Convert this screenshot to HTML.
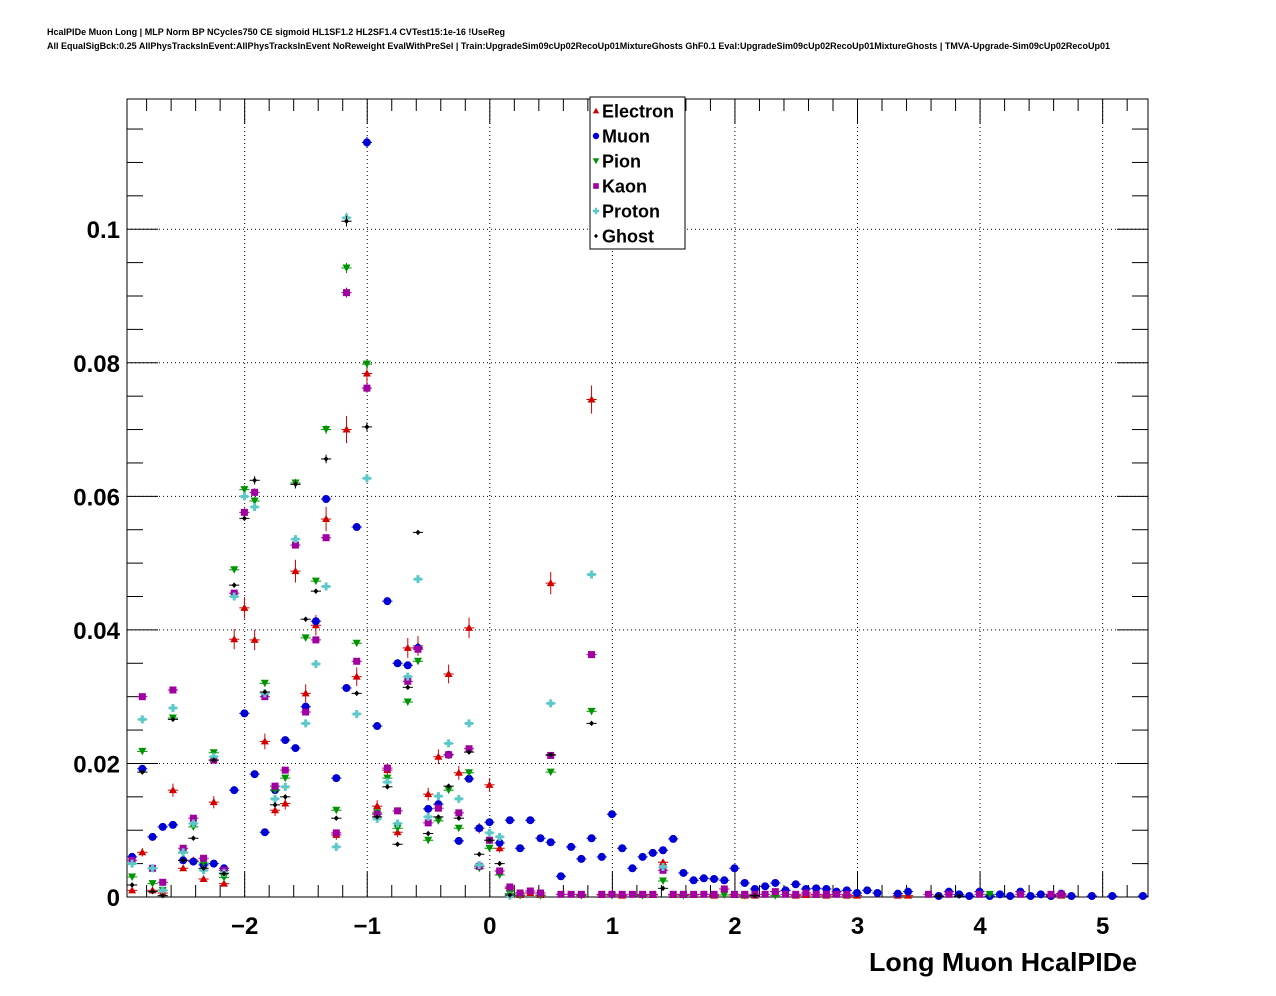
<!DOCTYPE html>
<html><head><meta charset="utf-8"><style>
body{margin:0;background:#fff;}
svg{display:block;font-family:"Liberation Sans",Arial,sans-serif;}
</style></head><body>
<svg id="chart" width="1276" height="996" viewBox="0 0 1276 996" xmlns="http://www.w3.org/2000/svg">
<rect x="0" y="0" width="1276" height="996" fill="#fff"/>
<text x="47" y="35" font-size="9" font-weight="bold" textLength="458" lengthAdjust="spacingAndGlyphs">HcalPIDe Muon Long | MLP Norm BP NCycles750 CE sigmoid HL1SF1.2 HL2SF1.4 CVTest15:1e-16 !UseReg</text>
<text x="47" y="49" font-size="9" font-weight="bold" textLength="1063" lengthAdjust="spacingAndGlyphs">All EqualSigBck:0.25 AllPhysTracksInEvent:AllPhysTracksInEvent NoReweight EvalWithPreSel | Train:UpgradeSim09cUp02RecoUp01MixtureGhosts GhF0.1 Eval:UpgradeSim09cUp02RecoUp01MixtureGhosts | TMVA-Upgrade-Sim09cUp02RecoUp01</text>
<g id="grid"></g>
<g id="axes"></g>
<g id="marks"></g>
<text x="1137" y="971" font-size="26" font-weight="bold" text-anchor="end" textLength="268" lengthAdjust="spacingAndGlyphs">Long Muon HcalPIDe</text>
<g id="legend"></g>
</svg>
<script>
const xMin = -2.96, xMax = 5.37, nBins = 100;
const yMin = 0, yMax = 0.1195;
const xTickLabels = ["−2","−1","0","1","2","3","4","5"];
const xTickValues = [-2,-1,0,1,2,3,4,5];
const yTickValues = [0,0.02,0.04,0.06,0.08,0.1];
const yTickLabels = ["0","0.02","0.04","0.06","0.08","0.1"];
const seriesNames = ["Electron","Muon","Pion","Kaon","Proton","Ghost"];
const electron = [0.001,0.0067,0.001,0.0006,0.016,0.0043,0.0055,0.0027,0.0142,0.002,0.0386,0.0433,0.0385,0.0233,0.013,0.014,0.0488,0.0305,0.0407,0.0566,0.0093,0.070,0.033,0.0784,0.0136,0.019,0.0097,0.0373,0.0376,0.0154,0.021,0.0334,0.0186,0.0403,0.0103,0.0168,0.0073,0.0013,0.0003,0.0006,0.0003,0.047,null,null,0.0003,0.0745,0.0003,0.0004,0.0002,null,0.0003,0.0003,0.0052,0.0003,0.0003,0.0003,null,0.0002,0.0012,0.0003,0.0002,0.0002,null,0.0008,null,0.0002,0.0003,0.0003,0.0002,null,0.0002,0.0002,null,null,null,0.0002,0.0002,null,null,null,null,null,null,null,null,null,null,null,null,null,0.0003,0.0002,null,null,null,null,null,null,null,null];
const muon = [0.006,0.0192,0.009,0.0105,0.0108,0.0055,0.0053,0.0048,0.005,0.0043,0.016,0.0275,0.0184,0.0097,0.016,0.0235,0.0223,0.0285,0.0413,0.0596,0.0178,0.0313,0.0554,0.113,0.0256,0.0443,0.035,0.0347,0.0373,0.0132,0.0139,0.0213,0.0084,0.0177,0.0103,0.0112,0.0081,0.0115,0.0073,0.0115,0.0088,0.0082,0.0031,0.0075,0.0057,0.0088,0.006,0.0124,0.0073,0.0043,0.006,0.0066,0.007,0.0087,0.0036,0.0025,0.0028,0.0027,0.0025,0.0043,0.0021,0.0012,0.0016,0.0021,0.001,0.0019,0.0012,0.0013,0.0012,0.0008,0.001,0.0006,0.001,0.0006,null,0.0005,0.0008,null,null,0.0001,0.0008,0.0004,0.0001,0.0008,0.0001,0.0004,0.0001,0.0008,0.0001,0.0004,0.0001,0.0005,0.0001,null,0.0001,null,0.0001,null,null,0.0001];
const pion = [0.003,0.0218,0.002,0.001,0.0268,0.0066,0.0105,0.0051,0.0216,0.0029,0.049,0.061,0.0593,0.032,0.016,0.0178,0.062,0.0388,0.0473,0.070,0.013,0.0942,0.038,0.0798,0.0126,0.0178,0.0103,0.0292,0.0353,0.0085,0.0114,0.016,0.0103,0.0186,0.0043,0.0073,0.0033,0.0005,0.0002,null,0.0002,0.0187,null,null,0.0002,0.0278,null,0.0002,null,null,0.0002,null,0.0024,null,0.0002,null,null,null,0.0003,null,0.0002,null,null,0.0002,null,null,null,null,null,null,null,null,null,null,null,null,null,null,null,null,null,null,null,null,0.0004,null,null,null,null,null,null,null,null,null,null,null,null,null,null,null];
const kaon = [0.0055,0.030,0.0043,0.0022,0.031,0.0073,0.0118,0.0058,0.0205,0.004,0.0455,0.0576,0.0606,0.030,0.0166,0.019,0.0527,0.0277,0.0385,0.0538,0.0096,0.0905,0.0353,0.0762,0.0124,0.0193,0.0129,0.0323,0.0371,0.0111,0.0133,0.0213,0.0126,0.0222,0.0046,0.0085,0.0039,0.0015,0.0006,0.0009,0.0006,0.0212,0.0004,0.0004,0.0004,0.0363,0.0004,0.0004,0.0004,0.0004,0.0004,0.0004,0.004,0.0004,0.0004,0.0004,0.0004,0.0004,0.0012,0.0004,0.0004,0.0004,0.0004,0.0008,0.0004,0.0004,0.0006,0.0004,0.0004,0.0004,0.0004,null,null,null,null,null,null,null,0.0004,null,0.0004,null,null,0.0004,null,null,null,0.0004,null,null,0.0004,0.0004,null,null,null,null,null,null,null,null];
const proton = [0.005,0.0266,0.0043,0.001,0.0283,0.0067,0.011,0.004,0.021,0.0036,0.045,0.060,0.0584,0.0305,0.0147,0.0165,0.0536,0.026,0.0349,0.0465,0.0075,0.1017,0.0274,0.0627,0.0117,0.0172,0.011,0.033,0.0476,0.012,0.0151,0.023,0.0147,0.026,0.0048,0.0096,0.009,0.0002,null,null,null,0.029,null,null,null,0.0483,null,null,null,null,null,null,0.0045,null,null,null,null,null,null,null,null,null,null,null,null,null,null,null,null,null,null,null,null,null,null,null,null,null,null,null,null,null,null,null,null,null,null,null,null,null,null,null,null,null,null,null,null,null,null,null,null];
const ghost = [0.0018,0.0187,0.0008,0.0002,0.0266,0.0055,0.0088,0.0043,0.0205,0.0035,0.0467,0.0567,0.0624,0.0307,0.0138,0.015,0.0618,0.0416,0.0458,0.0656,0.0118,0.1012,0.0305,0.0704,0.012,0.0165,0.0079,0.0314,0.0546,0.0095,0.012,0.0166,0.0118,0.0217,0.0064,0.0085,0.005,0.0003,null,null,null,0.0213,null,null,null,0.026,null,null,null,null,null,null,0.0013,null,null,null,null,null,null,null,null,0.0002,null,null,null,null,null,null,null,null,null,null,null,null,null,null,null,null,null,0.0001,null,0.0001,null,null,null,null,null,null,null,null,null,null,null,null,null,null,null,null,null,null];

const PL=127, PR=1148, PT=99, PB=897;
const NS="http://www.w3.org/2000/svg";
function sx(v){return PL+(v-xMin)/(xMax-xMin)*(PR-PL);}
function sy(v){return PB-(v-yMin)/(yMax-yMin)*(PB-PT);}
function mk(tag,attrs,parent){const e=document.createElementNS(NS,tag);for(const k in attrs)e.setAttribute(k,attrs[k]);parent.appendChild(e);return e;}
const grid=document.getElementById('grid'), axes=document.getElementById('axes'), marks=document.getElementById('marks'), legend=document.getElementById('legend');

xTickValues.forEach((v,i)=>{
  const x=sx(v);
  const gl=mk('line',{x1:x,x2:x,y1:PT,y2:PB,stroke:'#000','stroke-width':1,'stroke-dasharray':'1,3'},grid);
  
  
  const t=mk('text',{x:x,y:934,'font-size':24,'font-weight':'bold','text-anchor':'middle'},axes);
  t.textContent=xTickLabels[i];
  
  
});
yTickValues.forEach((v,i)=>{
  const y=sy(v);
  if(v>0){
    const gl=mk('line',{x1:PL,x2:PR,y1:y,y2:y,stroke:'#000','stroke-width':1,'stroke-dasharray':'1,3'},grid);
    
    
  }
  const t=mk('text',{x:120,y:y+9,'font-size':24,'font-weight':'bold','text-anchor':'end'},axes);
  t.textContent=yTickLabels[i];
  
  
});
for(let k=-14;k<=26;k++){
  const v=k*0.2; if(v<xMin||v>xMax) continue;
  const x=sx(v); const major=(k%5===0); const L=major?25:12;
  mk('line',{x1:x,x2:x,y1:PB,y2:PB-L,stroke:'#000','stroke-width':1},axes);
  mk('line',{x1:x,x2:x,y1:PT,y2:PT+L,stroke:'#000','stroke-width':1},axes);
}
for(let k=0;k<=23;k++){
  const v=k*0.005; if(v>yMax) continue;
  const y=sy(v); const major=(k%4===0); const L=major?31:16;
  mk('line',{x1:PL,x2:PL+L,y1:y,y2:y,stroke:'#000','stroke-width':1},axes);
  mk('line',{x1:PR,x2:PR-L,y1:y,y2:y,stroke:'#000','stroke-width':1},axes);
}
const frame=mk('rect',{x:PL,y:PT,width:PR-PL,height:PB-PT,fill:'none',stroke:'#000','stroke-width':1},axes);



function marker(kind,x,y,parent,scale){
  const s=scale||1;
  if(kind==='tri') return mk('path',{d:`M${x},${y-4*s}L${x+4*s},${y+3*s}L${x-4*s},${y+3*s}Z`,fill:'#d40000'},parent);
  if(kind==='circ') return mk('circle',{cx:x,cy:y,r:4*s,fill:'#0000d4'},parent);
  if(kind==='tdn') return mk('path',{d:`M${x-4*s},${y-3.5*s}L${x+4*s},${y-3.5*s}L${x},${y+4*s}Z`,fill:'#009400'},parent);
  if(kind==='sq') return mk('rect',{x:x-3.5*s,y:y-3.5*s,width:7*s,height:7*s,fill:'#a000a0'},parent);
  if(kind==='plus') return mk('path',{d:`M${x-1.5*s},${y-4*s}h${3*s}v${2.5*s}h${2.5*s}v${3*s}h${-2.5*s}v${2.5*s}h${-3*s}v${-2.5*s}h${-2.5*s}v${-3*s}h${2.5*s}Z`,fill:'#5cc8c8'},parent);
  return mk('path',{d:`M${x},${y-2.8*s}L${x+2.5*s},${y}L${x},${y+2.8*s}L${x-2.5*s},${y}Z`,fill:'#000'},parent);
}
const series=[
 {name:'electron',data:electron,kind:'tri',color:'#d40000',ek:0.0077},
 {name:'muon',data:muon,kind:'circ',color:'#0000d4',ek:0.0025},
 {name:'pion',data:pion,kind:'tdn',color:'#009400',ek:0.0025},
 {name:'kaon',data:kaon,kind:'sq',color:'#a000a0',ek:0.0025},
 {name:'proton',data:proton,kind:'plus',color:'#5cc8c8',ek:0.0025},
 {name:'ghost',data:ghost,kind:'dia',color:'#000',ek:0.0025}
];
const bw=(xMax-xMin)/nBins;
series.forEach(s=>{
  const g=mk('g',{},marks);
  
  
  s.data.forEach((v,i)=>{
    if(v===null) return;
    const xc=xMin+(i+0.5)*bw;
    const x=sx(xc), y=Math.min(sy(v),PB-1);
    mk('line',{x1:sx(xc-bw/2),x2:sx(xc+bw/2),y1:y,y2:y,stroke:s.color,'stroke-width':1},g);
    const e=s.ek*Math.sqrt(v);
    if(sy(v-e)-sy(v+e)>8) mk('line',{x1:x,x2:x,y1:sy(v+e),y2:Math.min(sy(v-e),PB),stroke:s.color,'stroke-width':1},g);
    const m=marker(s.kind,x,y,g);
    
    
  });
});
const lb=mk('rect',{x:590,y:97,width:95,height:152,fill:'#fff',stroke:'#000','stroke-width':1},legend);


const kinds=['tri','circ','tdn','sq','plus','dia'];
seriesNames.forEach((n,i)=>{
  const y=111+i*25;
  const eg=mk('g',{},legend);
  
  
  marker(kinds[i],596,y,eg,0.8);
  const t=mk('text',{x:602,y:y+6.5,'font-size':18,'font-weight':'bold'},eg);
  t.textContent=n;
});
</script>
</body></html>
